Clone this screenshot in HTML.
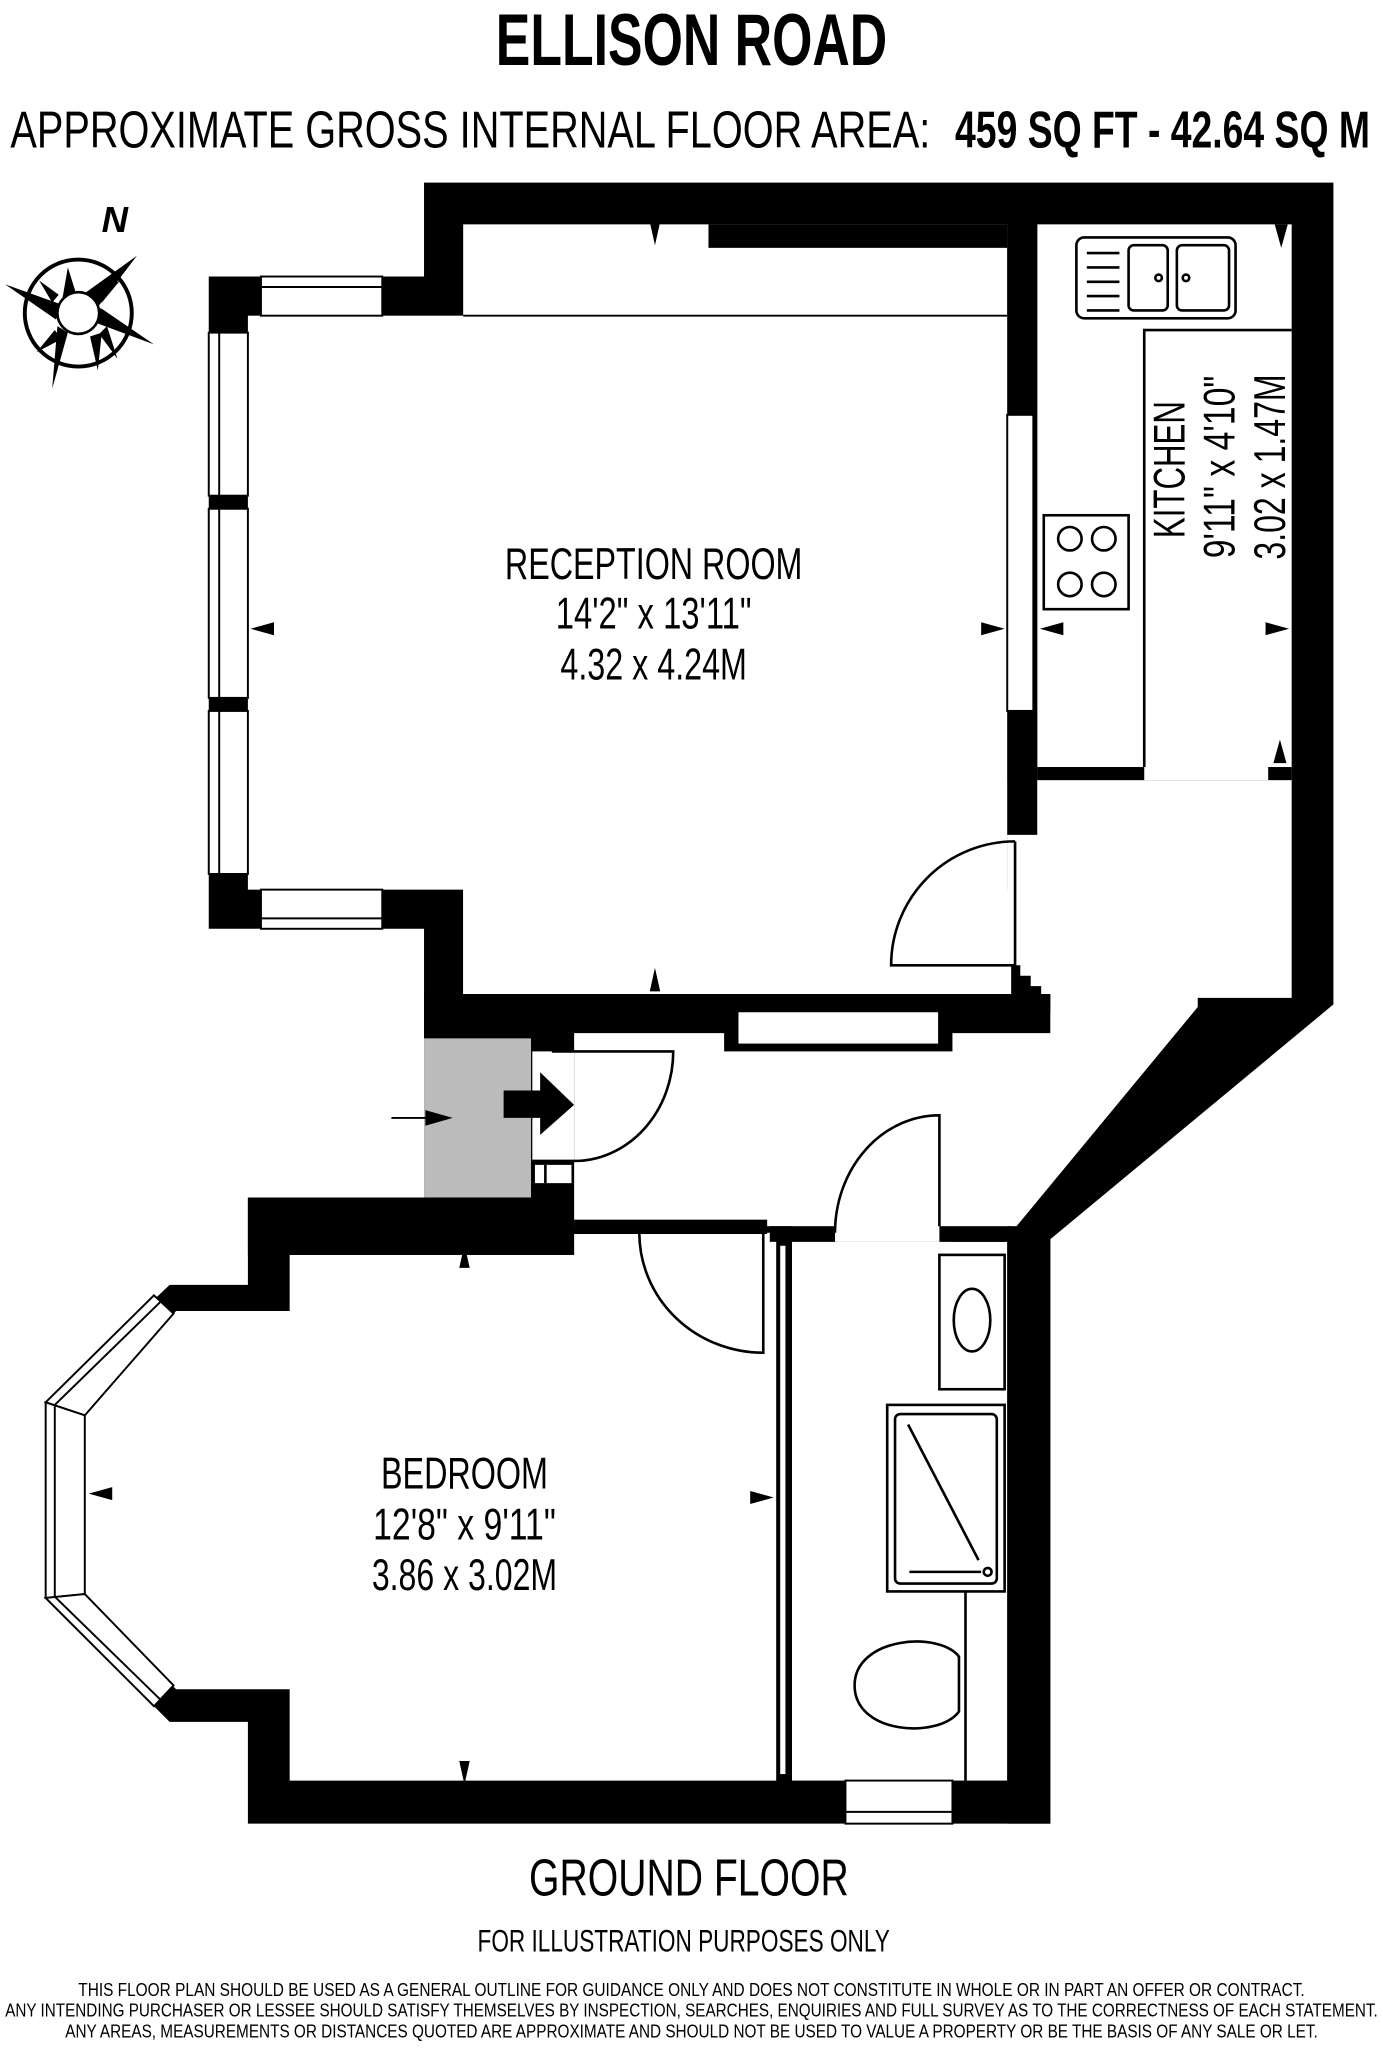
<!DOCTYPE html>
<html><head><meta charset="utf-8"><style>
html,body{margin:0;padding:0;background:#fff}
svg{display:block}
text{font-family:"Liberation Sans Narrow","Liberation Sans",sans-serif;fill:#000}
</style></head><body>
<svg width="1383" height="2048" viewBox="0 0 1060 1570" preserveAspectRatio="none" xmlns="http://www.w3.org/2000/svg">
<rect width="1060" height="1570" fill="#fff"/>
<text x="530" y="50" text-anchor="middle" font-size="56" font-weight="bold" textLength="300" lengthAdjust="spacingAndGlyphs">ELLISON ROAD</text>
<text x="8" y="113" font-size="40" textLength="705" lengthAdjust="spacingAndGlyphs">APPROXIMATE GROSS INTERNAL FLOOR AREA:</text>
<text x="732" y="113" font-size="40" font-weight="bold" textLength="318" lengthAdjust="spacingAndGlyphs">459 SQ FT  -  42.64 SQ M</text>

<!-- compass -->
<g stroke="#000" fill="none">
<circle cx="60" cy="240" r="41" stroke-width="3"/>
<circle cx="60" cy="240" r="16" stroke-width="2" fill="#fff"/>
</g>
<g fill="#000">
<polygon points="105,196 66,224 76,234"/>
<polygon points="40,298 52,255 44,250"/>
<polygon points="4,218 46,233 43,245"/>
<polygon points="118,264 75,248 77,236"/>
<polygon points="52,205 58,224 48,228"/><polygon points="92,215 78,232 73,224"/>
<polygon points="28,270 42,253 47,260"/><polygon points="75,284 69,258 78,255"/>
<polygon points="30,215 45,226 40,232"/><polygon points="90,275 76,256 82,250"/>
</g>
<text x="88" y="178" font-size="28" font-weight="bold" font-style="italic" text-anchor="middle">N</text>

<!-- walls black -->
<polygon fill="#000" points="325,140 1022,140 1022,770 805,950 805,1398 190,1398 190,1320 130,1320 35,1225 35,1075 130,985 190,985 190,918 325,918 325,712 160,712 160,212 325,212"/>

<g fill="#fff">
<rect x="190" y="242" width="582" height="440"/>
<rect x="355" y="172" width="417" height="590"/>
<rect x="355" y="682" width="423" height="80"/>
<rect x="795" y="172" width="195" height="426"/>
<polygon points="772,598 990,598 990,765 918,765 918,772 775,945 730,945 730,952 607,952 607,940 440,940 440,792 805,792 805,762 772,762"/>
<polygon points="222,962 440,962 440,945 595,945 595,1365 222,1365 222,1295 135,1295 65,1222 65,1085 135,1005 222,1005"/>
<rect x="607" y="952" width="165" height="413"/>
</g>
<rect x="795" y="588" width="82" height="10" fill="#000"/>
<rect x="972" y="588" width="18" height="10" fill="#000"/>
<rect x="543" y="172" width="229" height="18" fill="#000"/>
<line x1="355" y1="242" x2="772" y2="242" stroke="#000" stroke-width="1.5"/>
<rect x="325" y="762" width="453" height="14" fill="#000"/>
<rect x="772" y="172" width="23" height="468" fill="#000"/>
<rect x="772" y="318" width="20" height="227" fill="#fff" stroke="#000" stroke-width="1.5"/>
<polygon fill="#000" points="775,740 782,740 782,748 790,748 790,756 798,756 798,762 805,762 805,776 775,776"/>
<path d="M778,645 A95,95 0 0 0 683,740 L778,740 L778,645" fill="none" stroke="#000" stroke-width="2"/>
<rect x="555" y="776" width="175" height="30" fill="#000"/>
<rect x="566" y="776" width="153" height="24" fill="#fff"/>
<!-- entrance -->
<rect x="325" y="776" width="115" height="142" fill="#000"/>
<rect x="325" y="796" width="82" height="122" fill="#bbb"/>
<rect x="408" y="806" width="32" height="84" fill="#fff"/>
<rect x="410" y="893" width="28" height="14" fill="#fff"/>
<line x1="418" y1="893" x2="418" y2="907" stroke="#000" stroke-width="2"/>
<path d="M423,806 L516,806 A76,84 0 0 1 440,890 L408,890" fill="none" stroke="#000" stroke-width="2"/>
<polygon fill="#000" points="386,836 414,836 414,822 440,847 414,870 414,857 386,857"/>
<line x1="300" y1="857" x2="330" y2="857" stroke="#000" stroke-width="1.5"/>
<polygon fill="#000" points="326,851 347,857 326,863"/>
<rect x="190" y="918" width="250" height="44" fill="#000"/>
<rect x="440" y="935" width="148" height="11" fill="#000"/>
<path d="M490,946 A95,92 0 0 0 585,1037 L585,946" fill="none" stroke="#000" stroke-width="2"/>
<rect x="595" y="945" width="12" height="420" fill="#000"/>
<rect x="598" y="955" width="4" height="405" fill="#fff"/>
<rect x="590" y="940" width="50" height="12" fill="#000"/>
<rect x="720" y="940" width="55" height="12" fill="#000"/>
<rect x="772" y="940" width="33" height="458" fill="#000"/>
<path d="M640,945 A80,90 0 0 1 720,855 L720,940" fill="none" stroke="#000" stroke-width="2"/>
<!-- bay window -->
<g fill="#fff" stroke="#000" stroke-width="1.5">
<polygon points="35,1075 118,993 133,1007 65,1085"/>
<polygon points="35,1075 65,1085 65,1222 35,1225"/>
<polygon points="35,1225 65,1222 133,1292 118,1308"/>
</g>
<g stroke="#000" stroke-width="1.5" fill="none">
<line x1="42" y1="1077" x2="123" y2="998"/><line x1="42" y1="1078" x2="42" y2="1224"/><line x1="42" y1="1224" x2="123" y2="1303"/>
</g>
<g fill="#fff" stroke="#000" stroke-width="1.5">
<rect x="160" y="255" width="30" height="125"/><rect x="160" y="390" width="30" height="145"/><rect x="160" y="545" width="30" height="125"/>
<rect x="200" y="212" width="93" height="30"/><rect x="200" y="682" width="93" height="30"/>
<rect x="648" y="1365" width="82" height="33"/>
</g>
<g stroke="#000" stroke-width="1.5">
<line x1="168" y1="255" x2="168" y2="670"/><line x1="200" y1="220" x2="293" y2="220"/><line x1="200" y1="704" x2="293" y2="704"/><line x1="648" y1="1389" x2="730" y2="1389"/>
</g>
<g fill="none" stroke="#000" stroke-width="2">
<rect x="825" y="182" width="122" height="62" rx="6"/>
<rect x="865" y="188" width="30" height="50" rx="4"/><rect x="902" y="188" width="40" height="50" rx="4"/>
<line x1="833" y1="194" x2="858" y2="194"/><line x1="833" y1="205" x2="858" y2="205"/><line x1="833" y1="216" x2="858" y2="216"/><line x1="833" y1="227" x2="858" y2="227"/><line x1="833" y1="238" x2="858" y2="238"/>
<circle cx="888" cy="213" r="2.5"/><circle cx="909" cy="213" r="2.5"/>
<polyline points="877,588 877,253 990,253"/>
<rect x="800" y="395" width="65" height="72"/>
<circle cx="820" cy="413" r="9"/><circle cx="846" cy="413" r="9"/><circle cx="820" cy="448" r="9"/><circle cx="846" cy="448" r="9"/>
<rect x="720" y="962" width="50" height="103"/>
<ellipse cx="745" cy="1012" rx="14" ry="24"/>
<rect x="680" y="1077" width="90" height="143"/>
<rect x="686" y="1084" width="78" height="130" rx="4"/>
<line x1="696" y1="1092" x2="750" y2="1196"/><line x1="697" y1="1205" x2="752" y2="1205"/>
<circle cx="757" cy="1205" r="3"/>
<line x1="740" y1="1220" x2="740" y2="1365"/>
<path d="M735,1270 C720,1250 655,1255 655,1292 C655,1330 720,1333 735,1312 Z" fill="#fff"/>
</g>
<g fill="#000">
<polygon points="498,170 506,170 502,188"/><polygon points="977,172 987,172 982,190"/>
<polygon points="192,482 210,477 210,487"/><polygon points="770,482 752,477 752,487"/><polygon points="797,482 815,477 815,487"/>
<polygon points="988,482 970,477 970,487"/><polygon points="976,585 986,585 981,567"/>
<polygon points="498,760 506,760 502,742"/><polygon points="352,972 360,972 356,954"/>
<polygon points="68,1145 86,1140 86,1150"/><polygon points="593,1148 575,1143 575,1153"/><polygon points="352,1350 360,1350 356,1368"/>
</g>
<text x="501" y="444" text-anchor="middle" font-size="34" textLength="228" lengthAdjust="spacingAndGlyphs">RECEPTION ROOM</text>
<text x="501" y="482" text-anchor="middle" font-size="34" textLength="150" lengthAdjust="spacingAndGlyphs">14'2" x 13'11"</text>
<text x="501" y="521" text-anchor="middle" font-size="34" textLength="143" lengthAdjust="spacingAndGlyphs">4.32 x 4.24M</text>
<text x="356" y="1141" text-anchor="middle" font-size="34" textLength="128" lengthAdjust="spacingAndGlyphs">BEDROOM</text>
<text x="356" y="1180" text-anchor="middle" font-size="34" textLength="140" lengthAdjust="spacingAndGlyphs">12'8" x 9'11"</text>
<text x="356" y="1219" text-anchor="middle" font-size="34" textLength="142" lengthAdjust="spacingAndGlyphs">3.86 x 3.02M</text>
<text transform="translate(908,360) rotate(-90)" text-anchor="middle" font-size="34" textLength="105" lengthAdjust="spacingAndGlyphs">KITCHEN</text>
<text transform="translate(946,358) rotate(-90)" text-anchor="middle" font-size="34" textLength="140" lengthAdjust="spacingAndGlyphs">9'11" x 4'10"</text>
<text transform="translate(985,358) rotate(-90)" text-anchor="middle" font-size="34" textLength="142" lengthAdjust="spacingAndGlyphs">3.02 x 1.47M</text>
<text x="528" y="1453" text-anchor="middle" font-size="40" textLength="245" lengthAdjust="spacingAndGlyphs">GROUND FLOOR</text>
<text x="524" y="1496" text-anchor="middle" font-size="24" textLength="316" lengthAdjust="spacingAndGlyphs">FOR ILLUSTRATION PURPOSES ONLY</text>
<text x="530" y="1530" text-anchor="middle" font-size="14" textLength="940" lengthAdjust="spacingAndGlyphs">THIS FLOOR PLAN SHOULD BE USED AS A GENERAL OUTLINE FOR GUIDANCE ONLY AND DOES NOT CONSTITUTE IN WHOLE OR IN PART AN OFFER OR CONTRACT.</text>
<text x="530" y="1546" text-anchor="middle" font-size="14" textLength="1052" lengthAdjust="spacingAndGlyphs">ANY INTENDING PURCHASER OR LESSEE SHOULD SATISFY THEMSELVES BY INSPECTION, SEARCHES, ENQUIRIES AND FULL SURVEY AS TO THE CORRECTNESS OF EACH STATEMENT.</text>
<text x="530" y="1562" text-anchor="middle" font-size="14" textLength="960" lengthAdjust="spacingAndGlyphs">ANY AREAS, MEASUREMENTS OR DISTANCES QUOTED ARE APPROXIMATE AND SHOULD NOT BE USED TO VALUE A PROPERTY OR BE THE BASIS OF ANY SALE OR LET.</text>
</svg>
</body></html>
